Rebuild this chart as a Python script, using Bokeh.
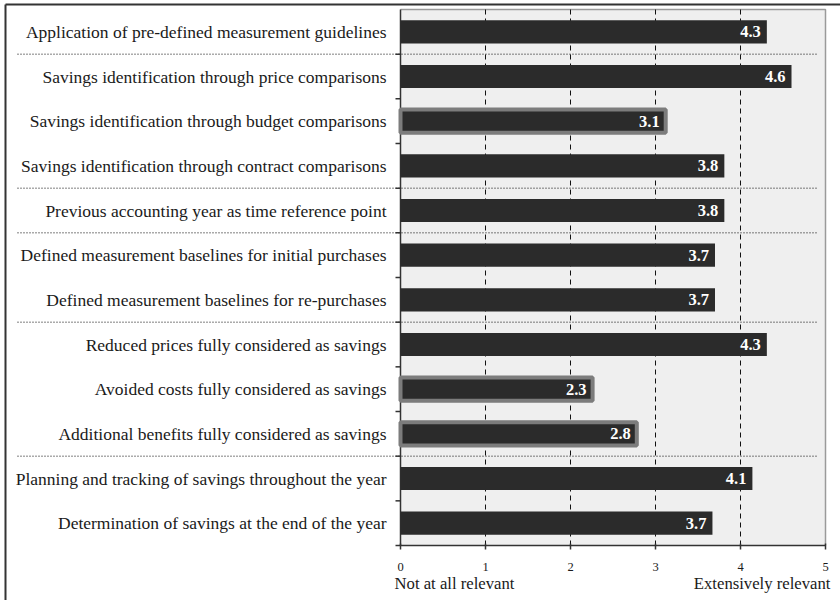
from bokeh.plotting import figure
from bokeh.models import Range1d
from bokeh.core.properties import value
from bokeh.embed import file_html
from bokeh.resources import INLINE

# ---------------- data ----------------
categories = [
    "Application of pre-defined measurement guidelines",
    "Savings identification through price comparisons",
    "Savings identification through budget comparisons",
    "Savings identification through contract comparisons",
    "Previous accounting year as time reference point",
    "Defined measurement baselines for initial purchases",
    "Defined measurement baselines for re-purchases",
    "Reduced prices fully considered as savings",
    "Avoided costs fully considered as savings",
    "Additional benefits fully considered as savings",
    "Planning and tracking of savings throughout the year",
    "Determination of savings at the end of the year",
]
values = [4.31, 4.60, 3.12, 3.81, 3.81, 3.70, 3.70, 4.31, 2.26, 2.78, 4.14, 3.67]
value_labels = ["4.3", "4.6", "3.1", "3.8", "3.8", "3.7", "3.7", "4.3", "2.3", "2.8", "4.1", "3.7"]
highlighted = [False, False, True, False, False, False, False, False, True, True, False, False]
group_breaks = [0.5, 3.5, 4.5, 6.5, 9.5]
x_ticks = [0, 1, 2, 3, 4, 5]
x_tick_labels = ["0", "1", "2", "3", "4", "5"]
scale_low = "Not at all relevant"
scale_high = "Extensively relevant"

# ---------------- layout ----------------
W, H = 840, 600
X0_PX = 400.0        # page x of value 0
PX_PER_UNIT = 85.0
Y0_PX = 9.0          # page y of top of plot area
ROW_PX = 44.667
XMAX = 5

def dx(px):
    return px / PX_PER_UNIT

def dy(px):
    return px / ROW_PX

n = len(categories)
ys = list(range(n))
top_y = -0.5
bot_y = n - 0.5

x_range = Range1d(-X0_PX / PX_PER_UNIT, (W - X0_PX) / PX_PER_UNIT)
y_range = Range1d((H - Y0_PX) / ROW_PX - 0.5, -Y0_PX / ROW_PX - 0.5)

p = figure(width=W, height=H, x_range=x_range, y_range=y_range,
           x_axis_type=None, y_axis_type=None, toolbar_location=None,
           output_backend="svg", min_border=0, min_border_left=0,
           min_border_right=0, min_border_top=0, min_border_bottom=0)
p.grid.visible = False
p.outline_line_color = None
p.background_fill_color = "white"
p.border_fill_color = "white"

SERIF = value("Liberation Serif")

# plot area background
p.quad(left=[0], right=[XMAX], top=[top_y], bottom=[bot_y],
       fill_color="#efefef", line_color=None)
p.line(x=[0, XMAX, XMAX], y=[top_y, top_y, bot_y], line_color="#9a9a9a", line_width=1.5)

# dashed vertical gridlines
grid_x = [t for t in x_ticks if 0 < t < XMAX]
p.segment(x0=grid_x, y0=[top_y] * len(grid_x), x1=grid_x, y1=[bot_y] * len(grid_x),
          line_color="#111111", line_width=1, line_dash="5 4")

# dotted group separators
sep_l = dx(17 - X0_PX)
sep_r = dx(816 - X0_PX)
p.segment(x0=[sep_l] * len(group_breaks), y0=group_breaks,
          x1=[sep_r] * len(group_breaks), y1=group_breaks,
          line_color="#000000", line_width=1, line_dash="1 2")

# left axis line + ticks
p.segment(x0=[0], y0=[top_y], x1=[0], y1=[bot_y], line_color="#333333", line_width=1.5)
bounds = [i + 0.5 for i in range(n)]
p.segment(x0=[dx(-5)] * len(bounds), y0=bounds, x1=[0] * len(bounds), y1=bounds,
          line_color="#333333", line_width=1.5)

# bottom axis line + ticks
p.segment(x0=[0], y0=[bot_y], x1=[XMAX], y1=[bot_y], line_color="#333333", line_width=1.5)
p.segment(x0=x_ticks, y0=[bot_y - dy(2)] * len(x_ticks), x1=x_ticks,
          y1=[bot_y + dy(4)] * len(x_ticks), line_color="#333333", line_width=1.5)

# bars
norm_y = [y for y, h in zip(ys, highlighted) if not h]
norm_v = [v for v, h in zip(values, highlighted) if not h]
hi_y = [y for y, h in zip(ys, highlighted) if h]
hi_v = [v for v, h in zip(values, highlighted) if h]
p.hbar(y=norm_y, left=0, right=norm_v, height=0.52, fill_color="#2b2b2b", line_color=None)
p.hbar(y=hi_y, left=0, right=hi_v, height=0.52, fill_color="#2b2b2b",
       line_color="#7c7c7c", line_width=4)

# value labels
p.text(x=values, y=ys, text=value_labels, x_offset=-6, text_align="right",
       text_baseline="middle", text_color="white", text_font=SERIF,
       text_font_size="16.5px", text_font_style="bold")

# category labels
p.text(x=[0] * n, y=ys, text=categories, x_offset=-14, text_align="right",
       text_baseline="middle", text_color="#1a1a1a", text_font=SERIF,
       text_font_size="17.5px")

# x tick labels
p.text(x=x_ticks, y=[bot_y] * len(x_ticks), text=x_tick_labels, y_offset=21,
       text_align="center", text_baseline="middle", text_color="#1a1a1a",
       text_font=SERIF, text_font_size="12.5px")

# scale end labels
p.text(x=[0], y=[bot_y], text=[scale_low], x_offset=-6, y_offset=38,
       text_align="left", text_baseline="alphabetic", text_color="#1a1a1a",
       text_font=SERIF, text_font_size="16.7px")
p.text(x=[XMAX], y=[bot_y], text=[scale_high], x_offset=5, y_offset=38,
       text_align="right", text_baseline="alphabetic", text_color="#1a1a1a",
       text_font=SERIF, text_font_size="16.7px")

# outer frame (top and left)
fx = dx(5 - X0_PX)
fy = dy(4 - Y0_PX) - 0.5
p.segment(x0=[fx, fx], y0=[fy, fy], x1=[x_range.end, fx], y1=[fy, y_range.start],
          line_color="#333333", line_width=2)

open("out.html", "w").write(file_html(p, INLINE))
